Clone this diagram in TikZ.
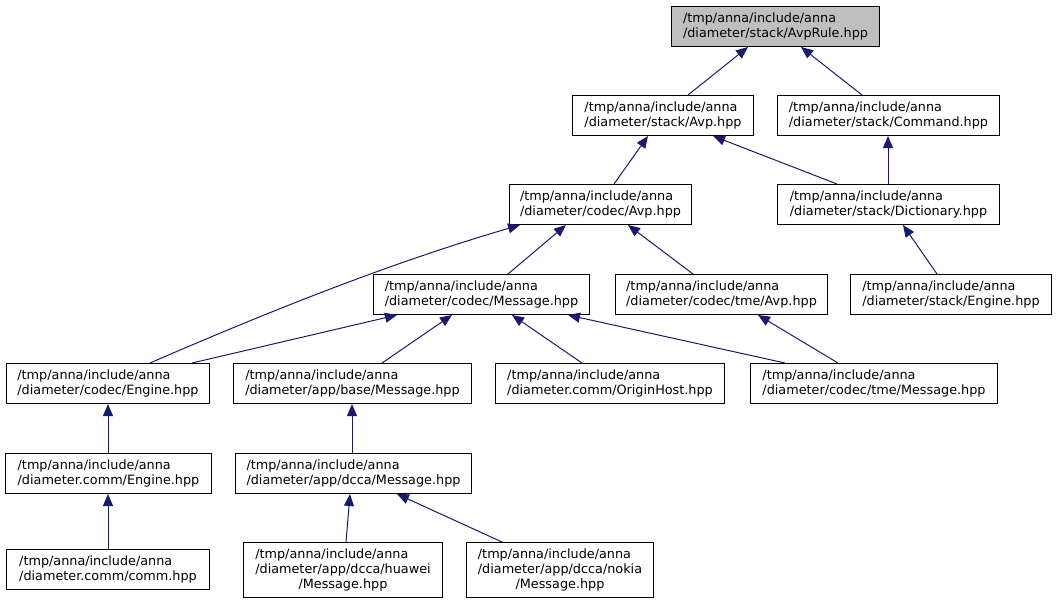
\documentclass[tikz,border=0pt]{standalone}
\usepackage{fontspec}
\setmainfont{DejaVu Sans}
\usetikzlibrary{arrows.meta,calc}
\definecolor{edgeblue}{HTML}{191970}
\definecolor{rootgray}{HTML}{BFBFBF}
\tikzset{
  box/.style={draw=black, line width=1pt, fill=white, anchor=north west, inner sep=0pt,
    font=\fontsize{12.8}{15}\selectfont},
  rootbox/.style={box, fill=rootgray},
  edge/.style={draw=edgeblue, line width=1pt, -{Triangle[length=12pt,width=10pt]}},
}
\newcommand{\two}[2]{\begin{tabular}{@{}l@{}}#1\\#2\end{tabular}}
\newcommand{\three}[3]{\begin{tabular}{@{}l@{}}#1\\#2\\\multicolumn{1}{@{}c@{}}{#3}\end{tabular}}
\begin{document}
\begin{tikzpicture}[x=1pt,y=-1pt]
\useasboundingbox (0,0) rectangle (1056,603);
% boxes: (x1,y1) with width/height
\node[rootbox, minimum width=208pt, minimum height=40pt] (avprule) at (671,6) {\two{/tmp/anna/include/anna}{/diameter/stack/AvpRule.hpp}};
\node[box, minimum width=181pt, minimum height=40pt] (savp) at (572,95) {\two{/tmp/anna/include/anna}{/diameter/stack/Avp.hpp}};
\node[box, minimum width=222pt, minimum height=40pt] (cmd) at (777,95) {\two{/tmp/anna/include/anna}{/diameter/stack/Command.hpp}};
\node[box, minimum width=182pt, minimum height=40pt] (cavp) at (509,184) {\two{/tmp/anna/include/anna}{/diameter/codec/Avp.hpp}};
\node[box, minimum width=222pt, minimum height=40pt] (dict) at (777,184) {\two{/tmp/anna/include/anna}{/diameter/stack/Dictionary.hpp}};
\node[box, minimum width=216pt, minimum height=40pt] (cmsg) at (373,274) {\two{/tmp/anna/include/anna}{/diameter/codec/Message.hpp}};
\node[box, minimum width=212pt, minimum height=40pt] (tavp) at (615,274) {\two{/tmp/anna/include/anna}{/diameter/codec/tme/Avp.hpp}};
\node[box, minimum width=201pt, minimum height=40pt] (seng) at (850,274) {\two{/tmp/anna/include/anna}{/diameter/stack/Engine.hpp}};
\node[box, minimum width=203pt, minimum height=40pt] (ceng) at (6,363) {\two{/tmp/anna/include/anna}{/diameter/codec/Engine.hpp}};
\node[box, minimum width=238pt, minimum height=40pt] (bmsg) at (233,363) {\two{/tmp/anna/include/anna}{/diameter/app/base/Message.hpp}};
\node[box, minimum width=229pt, minimum height=40pt] (orig) at (495,363) {\two{/tmp/anna/include/anna}{/diameter.comm/OriginHost.hpp}};
\node[box, minimum width=247pt, minimum height=40pt] (tmsg) at (750,363) {\two{/tmp/anna/include/anna}{/diameter/codec/tme/Message.hpp}};
\node[box, minimum width=206pt, minimum height=40pt] (cmeng) at (5,453) {\two{/tmp/anna/include/anna}{/diameter.comm/Engine.hpp}};
\node[box, minimum width=236pt, minimum height=40pt] (dmsg) at (235,453) {\two{/tmp/anna/include/anna}{/diameter/app/dcca/Message.hpp}};
\node[box, minimum width=203pt, minimum height=40pt] (comm) at (6,549) {\two{/tmp/anna/include/anna}{/diameter.comm/comm.hpp}};
\node[box, minimum width=199pt, minimum height=55pt] (huawei) at (243,542) {\three{/tmp/anna/include/anna}{/diameter/app/dcca/huawei}{/Message.hpp}};
\node[box, minimum width=187pt, minimum height=55pt] (nokia) at (466,542) {\three{/tmp/anna/include/anna}{/diameter/app/dcca/nokia}{/Message.hpp}};
% connectors (tail at child, arrowhead at parent)
\draw[edge] ([xshift=116pt]savp.north west) -- ([xshift=77pt]avprule.south west);
\draw[edge] ([xshift=85pt]cmd.north west) -- ([xshift=130pt]avprule.south west);
\draw[edge] ([xshift=105pt]cavp.north west) -- ([xshift=76pt]savp.south west);
\draw[edge] ([xshift=60pt]dict.north west) -- ([xshift=141pt]savp.south west);
\draw[edge] ([xshift=111pt]dict.north west) -- ([xshift=111pt]cmd.south west);
\draw[edge] ([xshift=87pt]seng.north west) -- ([xshift=126pt]dict.south west);
\draw[edge] ([xshift=135pt]cmsg.north west) -- ([xshift=57pt]cavp.south west);
\draw[edge] ([xshift=144pt]ceng.north west) .. controls (270,311) and (390,263) .. ([xshift=11pt]cavp.south west);
\draw[edge] ([xshift=186pt]ceng.north west) -- ([xshift=24pt]cmsg.south west);
\draw[edge] ([xshift=149pt]bmsg.north west) -- ([xshift=79pt]cmsg.south west);
\draw[edge] ([xshift=87pt]orig.north west) -- ([xshift=139pt]cmsg.south west);
\draw[edge] ([xshift=35pt]tmsg.north west) -- ([xshift=195pt]cmsg.south west);
\draw[edge] ([xshift=88pt]tmsg.north west) -- ([xshift=143pt]tavp.south west);
\draw[edge] ([xshift=78pt]tavp.north west) -- ([xshift=119pt]cavp.south west);
\draw[edge] ([xshift=103pt]cmeng.north west) -- ([xshift=102pt]ceng.south west);
\draw[edge] ([xshift=102pt]comm.north west) -- ([xshift=103pt]cmeng.south west);
\draw[edge] ([xshift=117pt]dmsg.north west) -- ([xshift=119pt]bmsg.south west);
\draw[edge] ([xshift=103pt]huawei.north west) -- ([xshift=115pt]dmsg.south west);
\draw[edge] ([xshift=36pt]nokia.north west) -- ([xshift=162pt]dmsg.south west);
\end{tikzpicture}
\end{document}
